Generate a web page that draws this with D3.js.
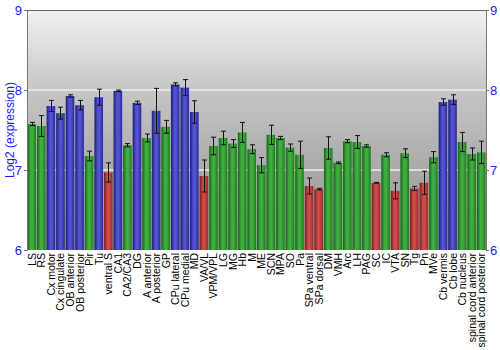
<!DOCTYPE html>
<html><head><meta charset="utf-8">
<script src="https://cdn.jsdelivr.net/npm/d3@7"></script>
<style>body{margin:0;background:#fff}svg{display:block}text{font-family:"Liberation Sans",Arial,sans-serif}</style>
</head><body><svg id="c" width="500" height="350"></svg>
<script>
const categories = ["LS","RS","Cx motor","Cx cingulate","OB anterior","OB posterior","Pir","Tu","ventral S","CA1","CA2/CA3","DG","A anterior","A posterior","GP","CPu lateral","CPu medial","MD","VA/VL","VPM/VPL","LG","MG","Hb","M","ME","SCN","MPA","SO","Pa","SPa ventral","SPa dorsal","DM","VMH","Arc","LH","PAG","SC","IC","VTA","SN","Tg","Pn","MVe","Cb vermis","Cb lobe","Cb nucleus","spinal cord anterior","spinal cord posterior"];
const values = [7.575,7.55,7.80,7.71,7.925,7.81,7.175,7.91,6.97,7.99,7.31,7.84,7.40,7.74,7.54,8.07,8.03,7.725,6.925,7.30,7.40,7.33,7.47,7.26,7.06,7.44,7.40,7.28,7.19,6.80,6.76,7.275,7.09,7.36,7.35,7.30,6.84,7.19,6.74,7.21,6.77,6.84,7.16,7.85,7.88,7.35,7.20,7.22];
const errors = [0.02,0.13,0.07,0.075,0.015,0.06,0.06,0.1,0.12,0.01,0.02,0.02,0.05,0.28,0.08,0.02,0.1,0.14,0.2,0.11,0.085,0.05,0.125,0.055,0.095,0.12,0.02,0.045,0.17,0.1,0.01,0.14,0.01,0.02,0.08,0.015,0.005,0.025,0.1,0.055,0.025,0.145,0.07,0.04,0.06,0.12,0.075,0.14];
const groups = ["g","g","b","b","b","b","g","b","r","b","g","b","g","b","g","b","b","b","r","g","g","g","g","g","g","g","g","g","g","r","r","g","g","g","g","g","r","g","r","g","r","r","g","b","b","g","g","g"];
const yTicks = [6,7,8,9];
const yLabel = "Log2 (expression)";

const svg = d3.select("#c");
const L = 27, R = 486, T = 10, B = 250;
const x = d3.scaleBand().domain(categories).range([L, R]).paddingInner(0.1).paddingOuter(0.05);
const y = d3.scaleLinear().domain([6, 9]).range([B, T]);

const defs = svg.append("defs");
const bg = defs.append("linearGradient").attr("id","bg").attr("x1",0).attr("y1",0).attr("x2",0).attr("y2",1);
[[0,"#f2f2f2"],[0.33,"#c6c6c6"],[0.67,"#a9a9a9"],[1,"#989898"]].forEach(s=>bg.append("stop").attr("offset",s[0]).attr("stop-color",s[1]));
const pal = {b:["#1c1c74","#5252d2","#2a2a92"], g:["#176417","#3fae3f","#1f7a1f"], r:["#7c1c1c","#cc4a4a","#962a2a"]};
Object.entries(pal).forEach(([k,c])=>{
  const g = defs.append("linearGradient").attr("id","bar"+k).attr("x1",0).attr("y1",0).attr("x2",1).attr("y2",0);
  [[0,c[0]],[0.4,c[1]],[0.6,c[1]],[1,c[2]]].forEach(s=>g.append("stop").attr("offset",s[0]).attr("stop-color",s[1]));
});

svg.append("rect").attr("x",L).attr("y",T).attr("width",R-L).attr("height",B-T).attr("fill","url(#bg)");
svg.append("g").selectAll("line").data([7,8]).join("line")
  .attr("x1",L).attr("x2",R).attr("y1",d=>y(d)).attr("y2",d=>y(d))
  .attr("stroke","#ececec").attr("stroke-width",1.5);

svg.append("g").selectAll("rect").data(categories).join("rect")
  .attr("x",d=>x(d)).attr("width",x.bandwidth())
  .attr("y",(d,i)=>y(values[i])).attr("height",(d,i)=>y(6)-y(values[i]))
  .attr("fill",(d,i)=>"url(#bar"+groups[i]+")");

const eb = svg.append("g").attr("stroke","#111").attr("stroke-width",1);
categories.forEach((c,i)=>{
  const cx = Math.round(x(c)+x.bandwidth()/2)+0.5;
  const y1 = y(values[i]+errors[i]), y2 = y(values[i]-errors[i]);
  eb.append("line").attr("x1",cx).attr("x2",cx).attr("y1",y1).attr("y2",y2);
  eb.append("line").attr("x1",cx-2.5).attr("x2",cx+2.5).attr("y1",y1).attr("y2",y1);
  eb.append("line").attr("x1",cx-2.5).attr("x2",cx+2.5).attr("y1",y2).attr("y2",y2);
});

svg.append("line").attr("x1",L).attr("x2",R).attr("y1",T+0.5).attr("y2",T+0.5).attr("stroke","#666");
const la = svg.append("g").attr("transform",`translate(${L},0)`).call(d3.axisLeft(y).tickValues(yTicks).tickSize(3).tickFormat(d3.format("d")));
const ra = svg.append("g").attr("transform",`translate(${R},0)`).call(d3.axisRight(y).tickValues(yTicks).tickSize(3).tickFormat(d3.format("d")));
[la,ra].forEach(a=>{
  a.select(".domain").attr("stroke","#777");
  a.selectAll(".tick line").attr("stroke","#777");
  a.selectAll(".tick text").attr("fill","#1a1aff").attr("font-size",13).attr("font-family","Liberation Sans, Arial, sans-serif");
});
la.selectAll(".tick text").attr("x",-5);
ra.selectAll(".tick text").attr("x",4);

svg.append("text").attr("transform","translate(14,130) rotate(-90)").attr("text-anchor","middle")
  .attr("fill","#1a1aff").attr("font-size",12).text(yLabel);

svg.append("g").selectAll("text").data(categories).join("text")
  .attr("transform",d=>`translate(${x(d)+x.bandwidth()/2+4},253) rotate(-90)`)
  .attr("text-anchor","end").attr("font-size",10.5).attr("fill","#000").text(d=>d);
</script></body></html>
